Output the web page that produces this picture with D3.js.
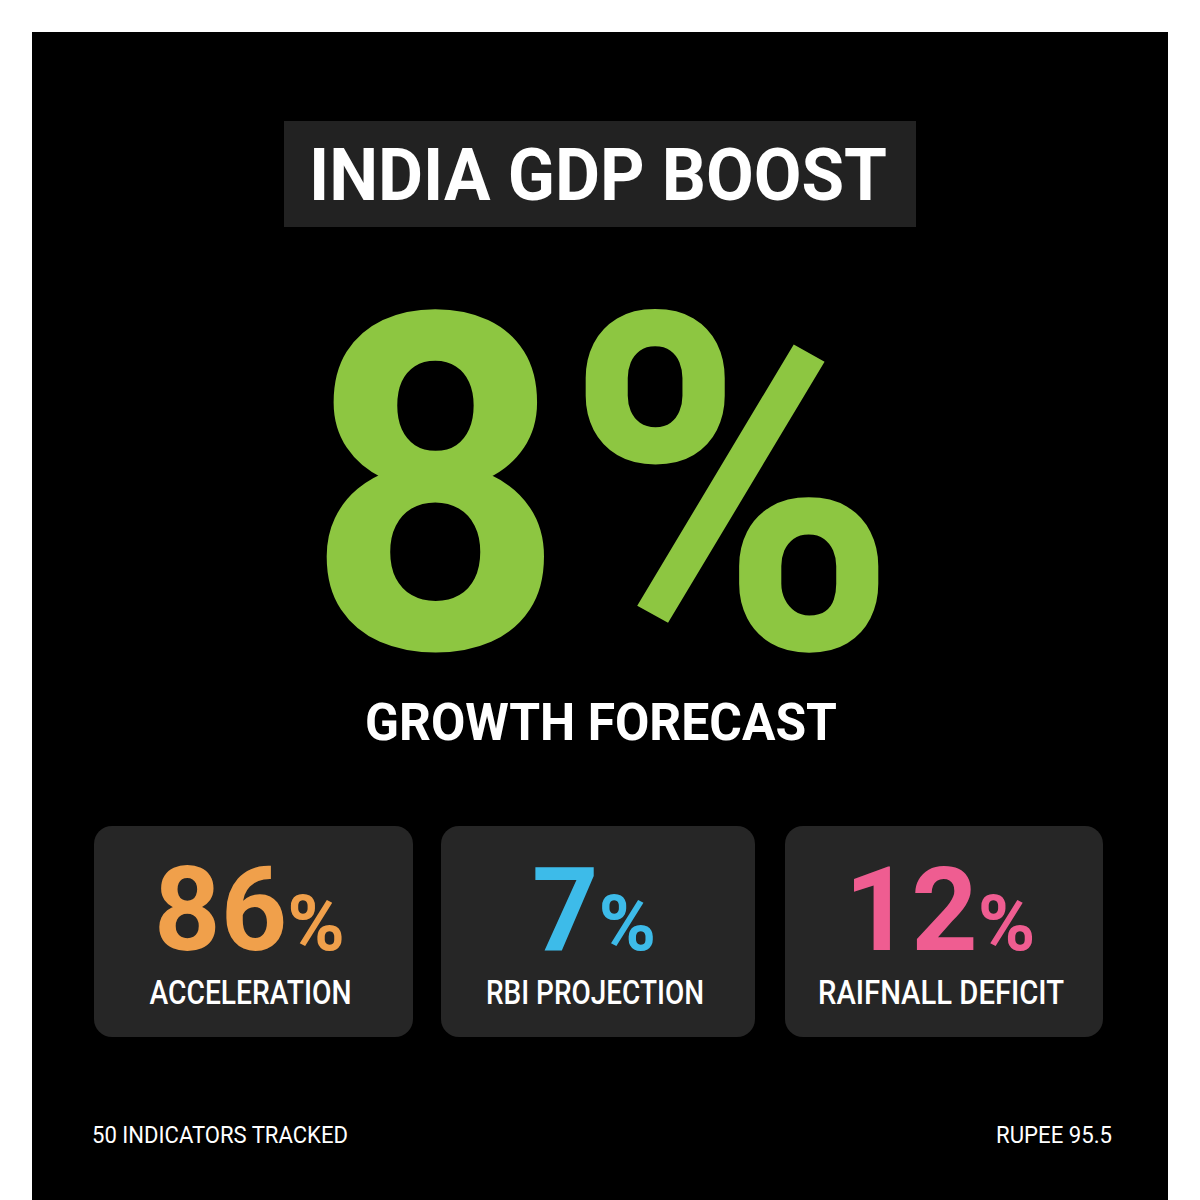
<!DOCTYPE html>
<html><head><meta charset="utf-8">
<script src="https://cdn.jsdelivr.net/npm/d3@7"></script>
<style>body{margin:0;background:#fff}svg{display:block}</style>
</head><body>
<script>
const title = "INDIA GDP BOOST";
const headline = "8";
const headlineLabel = "GROWTH FORECAST";
const cardValues = [86, 7, 12];
const cardLabels = ["ACCELERATION", "RBI PROJECTION", "RAIFNALL DEFICIT"];
const cardColors = ["#f0a04b", "#3dbbe9", "#ef5d91"];
const footerLeft = "50 INDICATORS TRACKED";
const footerRight = "RUPEE 95.5";

const svg = d3.select("body").append("svg").attr("width",1200).attr("height",1200);
const F = "Roboto, 'Liberation Sans', sans-serif";
svg.append("rect").attr("width",1200).attr("height",1200).attr("fill","#fff");
svg.append("rect").attr("x",32).attr("y",32).attr("width",1136).attr("height",1168).attr("fill","#000");

svg.append("rect").attr("x",284).attr("y",121).attr("width",632).attr("height",106).attr("fill","#222");
svg.append("text").attr("x",598).attr("y",200).attr("text-anchor","middle").attr("fill","#fff")
  .attr("font-family",F).attr("font-weight",700).attr("font-size",72)
  .attr("textLength",578).attr("lengthAdjust","spacingAndGlyphs").text(title);

const big = svg.append("text").attr("x",602).attr("y",648).attr("text-anchor","middle").attr("fill","#8dc641")
  .attr("font-family",F).attr("font-weight",700).attr("font-size",470)
  .attr("textLength",592).attr("lengthAdjust","spacingAndGlyphs");
big.append("tspan").text(headline);
big.append("tspan").text("%");

svg.append("text").attr("x",601).attr("y",740).attr("text-anchor","middle").attr("fill","#fff")
  .attr("font-family",F).attr("font-weight",700).attr("font-size",52)
  .attr("textLength",472).attr("lengthAdjust","spacingAndGlyphs").text(headlineLabel);

const x = d3.scaleOrdinal().domain(d3.range(3)).range([94,441,785]);
const w = [319,314,318];
const g = svg.selectAll("g.card").data(cardValues).join("g").attr("class","card");
g.append("rect").attr("x",(d,i)=>x(i)).attr("y",826).attr("width",(d,i)=>w[i]).attr("height",211)
  .attr("rx",18).attr("fill","#262626");
const v = g.append("text").attr("x",(d,i)=>x(i)+w[i]/2-4).attr("y",950).attr("text-anchor","middle")
  .attr("fill",(d,i)=>cardColors[i]).attr("font-family",F).attr("font-weight",700);
v.append("tspan").attr("font-size",116).text(d=>d);
v.append("tspan").attr("font-size",78).text("%");
g.append("text").attr("x",(d,i)=>x(i)+w[i]/2-3).attr("y",1004).attr("text-anchor","middle").attr("fill","#fff")
  .attr("font-family",F).attr("font-weight",500).attr("font-size",33)
  .attr("textLength",(d,i)=>[202,218,246][i]).attr("lengthAdjust","spacingAndGlyphs").text((d,i)=>cardLabels[i]);

svg.append("text").attr("x",92).attr("y",1143).attr("fill","#fff").attr("font-family",F).attr("font-size",24)
  .attr("textLength",256).attr("lengthAdjust","spacingAndGlyphs").text(footerLeft);
svg.append("text").attr("x",1112).attr("y",1143).attr("text-anchor","end").attr("fill","#fff").attr("font-family",F).attr("font-size",24)
  .attr("textLength",116).attr("lengthAdjust","spacingAndGlyphs").text(footerRight);
</script>
</body></html>
